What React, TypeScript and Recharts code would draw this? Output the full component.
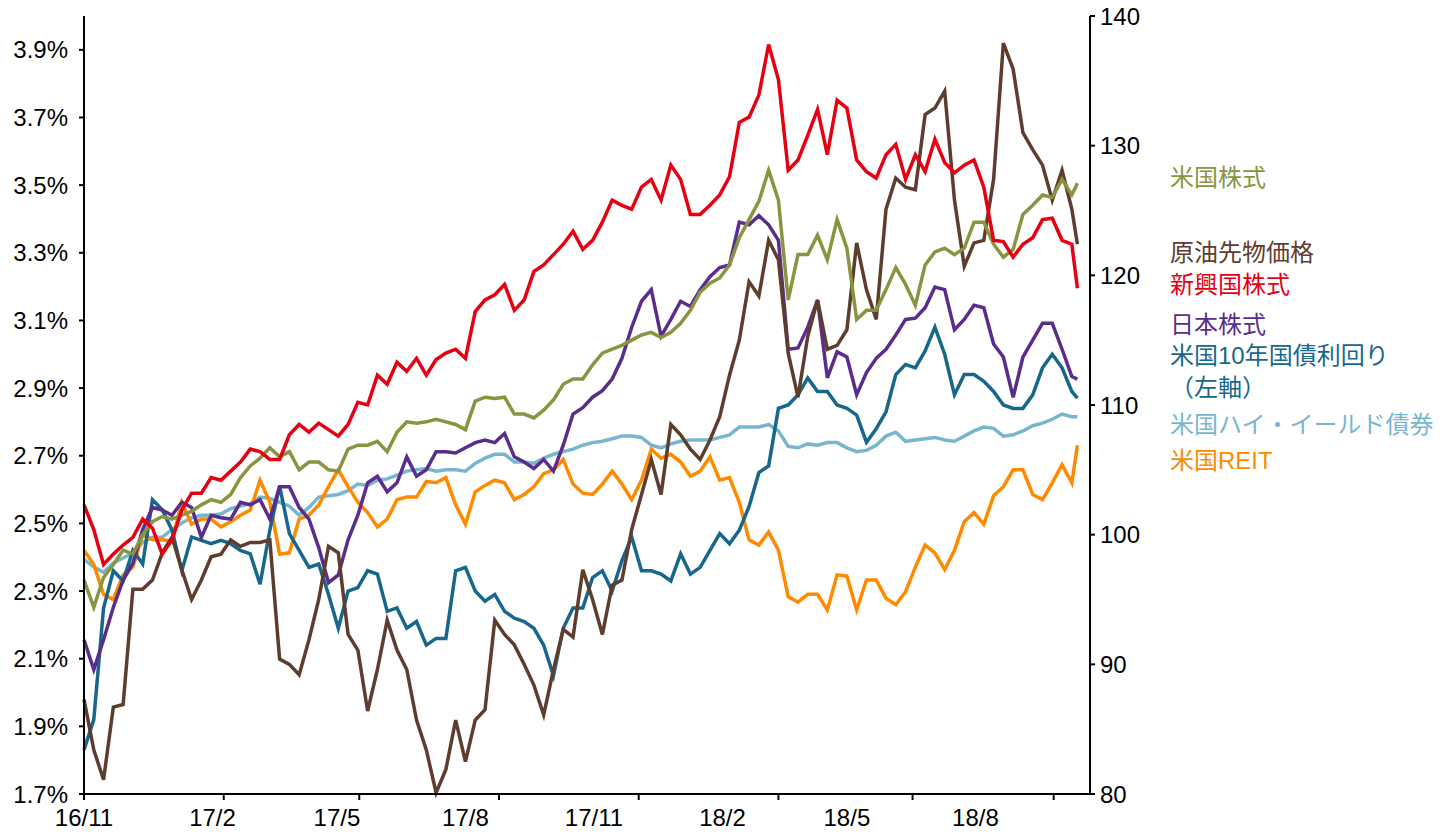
import { LineChart, Line, XAxis, YAxis } from 'recharts';

// weekly samples, day offset from 2016/11/1
const days = [...Array.from({ length: 102 }, (_, i) => i * 7), 711];

const xLabels = ['16/11', '17/2', '17/5', '17/8', '17/11', '18/2', '18/5', '18/8'];
const xLabelDays = [0, 92, 181, 273, 365, 457, 546, 638];
const xMarkDays = [0, 100, 197, 297, 397, 497, 593, 694];

const leftTicks = [1.7, 1.9, 2.1, 2.3, 2.5, 2.7, 2.9, 3.1, 3.3, 3.5, 3.7, 3.9];
const rightTicks = [80, 90, 100, 110, 120, 130, 140];

// 米国株式
const usStocks = [
  96.5, 94.4, 96.7, 97.7, 98.8, 98.5, 100.0, 101.0, 101.4, 101.2,
  101.5, 101.8, 102.3, 102.7, 102.5, 103.1, 104.4, 105.3, 105.9, 106.7,
  106.0, 106.4, 105.0, 105.6, 105.6, 105.0, 104.9, 106.6, 106.9, 106.9,
  107.2, 106.4, 107.9, 108.7, 108.6, 108.7, 108.9, 108.7, 108.5, 108.1,
  110.3, 110.6, 110.5, 110.6, 109.3, 109.3, 109.0, 109.6, 110.4, 111.6,
  112.0, 112.0, 113.1, 114.0, 114.3, 114.6, 115.0, 115.4, 115.6, 115.2,
  115.6, 116.3, 117.3, 118.7, 119.4, 119.8, 120.8, 122.9, 124.3, 125.7,
  128.1, 125.8, 118.1, 121.6, 121.6, 123.1, 121.2, 124.3, 122.1, 116.6,
  117.3, 117.3, 118.9, 120.6, 119.3, 117.7, 120.8, 121.8, 122.1, 121.6,
  122.1, 124.1, 124.1, 122.4, 121.4, 122.0, 124.7, 125.4, 126.2, 126.0,
  127.4, 126.2, 127.1,
];

// 原油先物価格
const crudeOil = [
  87.3, 83.4, 81.1, 86.7, 86.9, 95.8, 95.8, 96.5, 98.6, 99.8,
  97.3, 95.0, 96.5, 98.3, 98.5, 99.6, 99.1, 99.4, 99.4, 99.6,
  90.4, 90.0, 89.2, 91.9, 95.0, 99.1, 98.6, 92.3, 91.1, 86.4,
  89.6, 93.4, 91.1, 89.6, 85.7, 83.4, 80.1, 81.9, 85.7, 82.5,
  85.7, 86.5, 93.4, 92.3, 91.5, 90.0, 88.4, 86.1, 89.6, 92.7,
  92.1, 97.3, 95.0, 92.3, 96.1, 96.5, 100.4, 103.1, 105.8, 103.1,
  108.5, 107.7, 106.6, 105.8, 107.3, 109.1, 112.3, 115.0, 119.5, 118.4,
  122.7, 121.2, 114.0, 110.6, 115.3, 118.1, 114.3, 114.6, 115.8, 122.5,
  118.9, 116.6, 125.1, 127.5, 126.8, 126.6, 132.4, 132.9, 134.2, 125.8,
  120.7, 122.5, 122.7, 127.4, 137.9, 135.9, 131.0, 129.7, 128.5, 125.8,
  128.1, 125.1, 122.4,
];

// 新興国株式
const emergingStocks = [
  102.3, 100.4, 97.7, 98.5, 99.2, 99.8, 101.2, 100.5, 98.5, 99.6,
  101.9, 103.2, 103.2, 104.4, 104.2, 104.9, 105.6, 106.6, 106.4, 105.8,
  105.8, 107.7, 108.5, 107.9, 108.6, 108.1, 107.6, 108.5, 110.2, 110.0,
  112.3, 111.6, 113.3, 112.6, 113.6, 112.3, 113.5, 114.0, 114.3, 113.6,
  117.2, 118.1, 118.5, 119.3, 117.3, 118.1, 120.3, 120.8, 121.6, 122.4,
  123.4, 122.0, 122.7, 124.1, 125.8, 125.4, 125.1, 126.8, 127.4, 125.8,
  128.5, 127.4, 124.7, 124.7, 125.4, 126.2, 127.6, 131.8, 132.2, 133.9,
  137.8, 135.1, 128.1, 128.9, 130.8, 132.8, 129.3, 133.5, 132.9, 128.9,
  128.0, 127.5, 129.3, 130.1, 127.4, 129.3, 128.0, 130.5, 128.7, 127.9,
  128.5, 128.9, 126.8, 122.7, 122.6, 121.4, 122.4, 122.9, 124.3, 124.4,
  122.7, 122.4, 119.0,
];

// 日本株式
const japanStocks = [
  91.9, 89.6, 91.9, 94.4, 96.5, 97.8, 100.4, 102.1, 101.9, 101.5,
  102.5, 102.1, 99.8, 101.5, 101.3, 101.2, 102.5, 102.3, 102.7, 101.2,
  103.7, 103.7, 102.1, 101.2, 99.0, 96.3, 96.9, 99.6, 101.5, 104.0,
  104.5, 103.3, 104.0, 106.0, 104.5, 105.0, 106.4, 106.4, 106.3, 106.7,
  107.1, 107.3, 107.1, 107.8, 106.0, 105.6, 105.1, 105.8, 104.9, 106.9,
  109.3, 109.8, 110.6, 111.1, 112.0, 113.6, 116.0, 118.0, 118.9, 115.3,
  116.6, 118.0, 117.6, 118.9, 119.9, 120.6, 120.8, 124.1, 123.9, 124.6,
  123.9, 122.7, 114.3, 114.4, 116.0, 118.1, 112.1, 114.1, 113.7, 110.8,
  112.5, 113.6, 114.3, 115.4, 116.6, 116.7, 117.5, 119.1, 118.9, 115.8,
  116.6, 117.7, 117.5, 114.7, 113.7, 110.6, 113.7, 115.0, 116.3, 116.3,
  114.3, 112.2, 112.0,
];

// 米国10年国債利回り（%、左軸）
const ust10y = [
  1.83, 1.92, 2.25, 2.36, 2.33, 2.42, 2.38, 2.57, 2.54, 2.48,
  2.36, 2.46, 2.45, 2.44, 2.45, 2.44, 2.42, 2.41, 2.32, 2.48,
  2.61, 2.47, 2.42, 2.37, 2.38, 2.29, 2.19, 2.30, 2.31, 2.36,
  2.35, 2.24, 2.25, 2.19, 2.21, 2.14, 2.16, 2.16, 2.36, 2.37,
  2.30, 2.27, 2.29, 2.24, 2.22, 2.21, 2.19, 2.14, 2.05, 2.19,
  2.25, 2.25, 2.34, 2.36, 2.30, 2.39, 2.46, 2.36, 2.36, 2.35,
  2.33, 2.41, 2.35, 2.37, 2.42, 2.47, 2.44, 2.48, 2.55, 2.65,
  2.67, 2.84, 2.85, 2.88, 2.93, 2.89, 2.89, 2.85, 2.84, 2.82,
  2.74, 2.78, 2.83, 2.94, 2.97, 2.96, 3.01, 3.08, 3.00, 2.88,
  2.94, 2.94, 2.92, 2.89, 2.85, 2.84, 2.84, 2.88, 2.96, 3.00,
  2.96, 2.89, 2.87,
];

// 米国ハイ・イールド債券
const usHighYield = [
  98.1, 97.5, 97.1, 97.8, 98.2, 98.6, 99.4, 99.8, 99.8, 100.4,
  100.9, 101.3, 101.5, 101.5, 101.6, 102.0, 102.2, 102.4, 102.9, 102.8,
  102.5, 102.2, 101.5, 102.1, 102.9, 103.0, 103.1, 103.4, 103.9, 103.8,
  104.2, 104.3, 104.6, 104.9, 105.0, 105.1, 104.9, 105.0, 105.0, 104.9,
  105.5, 105.9, 106.2, 106.2, 105.6, 105.6, 105.5, 105.9, 106.2, 106.4,
  106.6, 106.9, 107.1, 107.2, 107.4, 107.6, 107.6, 107.5, 106.9, 106.7,
  107.0, 107.2, 107.3, 107.3, 107.3, 107.5, 107.7, 108.3, 108.3, 108.3,
  108.5, 108.0, 106.8, 106.7, 107.0, 106.9, 107.1, 107.1, 106.7, 106.4,
  106.5, 106.9, 107.6, 107.9, 107.2, 107.3, 107.4, 107.5, 107.3, 107.2,
  107.6, 108.0, 108.3, 108.2, 107.6, 107.7, 108.0, 108.4, 108.6, 108.9,
  109.3, 109.1, 109.1,
];

// 米国REIT
const usReit = [
  98.8, 97.7, 95.4, 95.0, 96.9, 97.5, 100.0, 99.6, 99.6, 99.5,
  102.5, 100.8, 101.2, 101.2, 100.6, 101.0, 101.5, 101.9, 104.2, 102.5,
  98.5, 98.6, 101.2, 101.5, 102.3, 103.7, 105.0, 103.7, 102.5, 101.7,
  100.6, 101.2, 102.7, 102.9, 102.9, 104.1, 104.0, 104.4, 102.3, 100.8,
  103.3, 103.8, 104.2, 104.0, 102.7, 103.1, 103.7, 104.7, 105.0, 105.8,
  103.9, 103.2, 103.1, 103.9, 104.9, 103.9, 102.7, 104.2, 106.6, 105.9,
  106.2, 105.6, 104.5, 104.9, 106.0, 104.2, 104.4, 102.5, 99.6, 99.2,
  100.2, 98.8, 95.2, 94.8, 95.4, 95.4, 94.2, 96.9, 96.8, 94.2,
  96.5, 96.5, 95.1, 94.6, 95.6, 97.5, 99.2, 98.6, 97.3, 98.8,
  101.0, 101.7, 100.8, 103.0, 103.7, 105.0, 105.0, 103.1, 102.7, 104.0,
  105.4, 104.0, 106.9,
];

const COLORS = {
  us: '#8A9440',
  oil: '#5E3D2E',
  em: '#E60012',
  jp: '#5A2D8C',
  ust: '#17678C',
  hy: '#78B6D0',
  reit: '#FF8A00',
};

const FONT = '"Liberation Sans", Arial, "Noto Sans CJK JP", sans-serif';

const data = days.map((d, i) => ({
  d,
  us: usStocks[i],
  oil: crudeOil[i],
  em: emergingStocks[i],
  jp: japanStocks[i],
  ust: ust10y[i],
  hy: usHighYield[i],
  reit: usReit[i],
}));

const legend = [
  { text: '米国株式', color: COLORS.us, top: 163 },
  { text: '原油先物価格', color: COLORS.oil, top: 238 },
  { text: '新興国株式', color: COLORS.em, top: 270 },
  { text: '日本株式', color: COLORS.jp, top: 310 },
  { text: '米国10年国債利回り', color: COLORS.ust, top: 341 },
  { text: '（左軸）', color: COLORS.ust, top: 373 },
  { text: '米国ハイ・イールド債券', color: COLORS.hy, top: 410 },
  { text: '米国REIT', color: COLORS.reit, top: 446 },
];

const xTicks = Array.from(new Set([...xLabelDays, ...xMarkDays])).sort((a, b) => a - b);

function XTick(props: any) {
  const { x, y, payload } = props;
  const v = payload.value;
  const li = xLabelDays.indexOf(v);
  return (
    <g>
      {xMarkDays.includes(v) && (
        <line x1={x} x2={x} y1={y - 8} y2={y - 2} stroke="#000" strokeWidth={2} />
      )}
      {li >= 0 && (
        <text x={x} y={y + 24} textAnchor="middle" fontSize={24} fontFamily={FONT} fill="#000">
          {xLabels[li]}
        </text>
      )}
    </g>
  );
}

const axisLine = { stroke: '#000', strokeWidth: 2 };
const tickStyle = { fontSize: 24, fill: '#000', fontFamily: FONT };
const W = 3.5;

export default function App() {
  return (
    <div style={{ position: 'absolute', left: 0, top: 0, width: 1446, height: 835, background: '#fff' }}>
      <LineChart width={1446} height={835} data={data} margin={{ top: 16, right: 296, bottom: 6, left: 0 }}>
        <XAxis
          dataKey="d"
          type="number"
          domain={[0, 720]}
          ticks={xTicks}
          interval={0}
          tickLine={false}
          axisLine={axisLine}
          tick={<XTick />}
          height={35}
        />
        <YAxis
          yAxisId="left"
          orientation="left"
          domain={[1.7, 4.0]}
          ticks={leftTicks}
          interval={0}
          width={84}
          tickSize={5}
          tickMargin={11}
          tickFormatter={(v: number) => `${v.toFixed(1)}%`}
          axisLine={axisLine}
          tickLine={{ stroke: '#000', strokeWidth: 2 }}
          tick={tickStyle}
        />
        <YAxis
          yAxisId="right"
          orientation="right"
          domain={[80, 140]}
          ticks={rightTicks}
          interval={0}
          width={60}
          tickSize={5}
          tickMargin={5}
          axisLine={axisLine}
          tickLine={{ stroke: '#000', strokeWidth: 2 }}
          tick={tickStyle}
        />
        <Line yAxisId="right" dataKey="hy" stroke={COLORS.hy} strokeWidth={W} dot={false} isAnimationActive={false} />
        <Line yAxisId="right" dataKey="reit" stroke={COLORS.reit} strokeWidth={W} dot={false} isAnimationActive={false} />
        <Line yAxisId="left" dataKey="ust" stroke={COLORS.ust} strokeWidth={W} dot={false} isAnimationActive={false} />
        <Line yAxisId="right" dataKey="jp" stroke={COLORS.jp} strokeWidth={W} dot={false} isAnimationActive={false} />
        <Line yAxisId="right" dataKey="oil" stroke={COLORS.oil} strokeWidth={W} dot={false} isAnimationActive={false} />
        <Line yAxisId="right" dataKey="us" stroke={COLORS.us} strokeWidth={W} dot={false} isAnimationActive={false} />
        <Line yAxisId="right" dataKey="em" stroke={COLORS.em} strokeWidth={W} dot={false} isAnimationActive={false} />
      </LineChart>
      {legend.map((item) => (
        <div
          key={item.text}
          style={{
            position: 'absolute',
            left: 1170,
            top: item.top,
            fontSize: 24,
            lineHeight: '30px',
            fontFamily: FONT,
            color: item.color,
            whiteSpace: 'nowrap',
          }}
        >
          {item.text}
        </div>
      ))}
    </div>
  );
}
